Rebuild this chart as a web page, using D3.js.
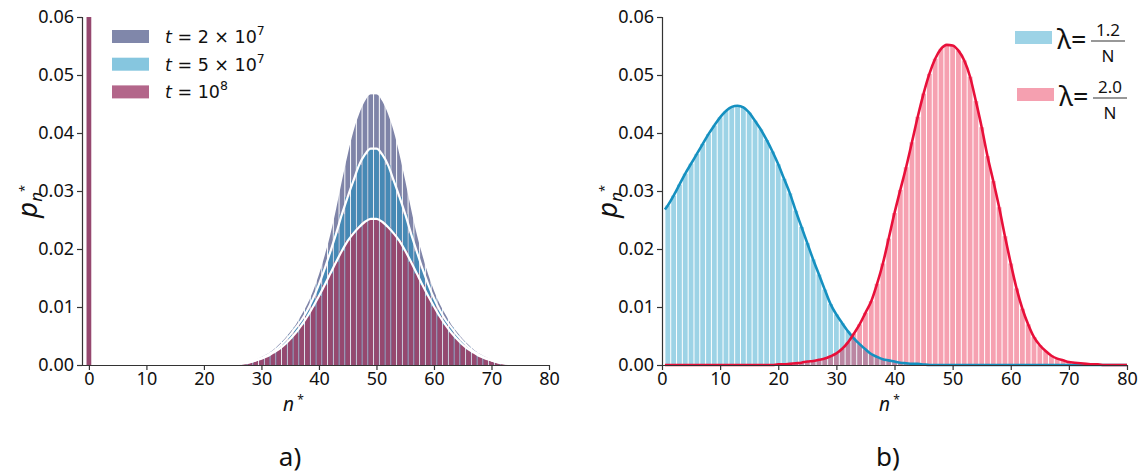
<!DOCTYPE html>
<html>
<head>
<meta charset="utf-8">
<script src="https://cdn.jsdelivr.net/npm/d3@7"></script>
<style>
  body { margin: 0; background: #fff; }
  svg { display: block; }
  .tick text { font-family: "Noto Sans", sans-serif; font-size: 18px; fill: #111; }
  .domain, .tick line { stroke: #333; stroke-width: 1.2; }
</style>
</head>
<body>
<svg id="chart" width="1141" height="476"></svg>
<script>
// panel a) : n = 0..80, three times
const nA = d3.range(0, 81);
const pT2e7 = [
  0, 0, 0, 0, 0, 0, 0, 0, 0, 0, 0, 0, 0, 0, 0, 0, 0, 0, 0, 0, 0, 0, 0, 0, 0,
  0.0001, 0.0002, 0.0004, 0.0006, 0.0009, 0.0014, 0.0019, 0.0026, 0.0035, 0.0045,
  0.0057, 0.0070, 0.0087, 0.0105, 0.0128, 0.0156, 0.0189, 0.0226, 0.0270, 0.0318,
  0.0363, 0.0403, 0.0433, 0.0455, 0.0467, 0.0467, 0.0455, 0.0433, 0.0403, 0.0363,
  0.0318, 0.0270, 0.0226, 0.0189, 0.0156, 0.0128, 0.0105, 0.0087, 0.0070, 0.0057,
  0.0045, 0.0035, 0.0026, 0.0019, 0.0014, 0.0009, 0.0006, 0.0004, 0.0002, 0.0001,
  0, 0, 0, 0, 0, 0
];
const pT5e7 = [
  0, 0, 0, 0, 0, 0, 0, 0, 0, 0, 0, 0, 0, 0, 0, 0, 0, 0, 0, 0, 0, 0, 0, 0, 0,
  0.0001, 0.0002, 0.0003, 0.0005, 0.0008, 0.0012, 0.0017, 0.0023, 0.0031, 0.0041,
  0.0052, 0.0065, 0.0078, 0.0095, 0.0115, 0.0139, 0.0166, 0.0196, 0.0227, 0.0260,
  0.0290, 0.0318, 0.0345, 0.0363, 0.0373, 0.0373, 0.0363, 0.0345, 0.0318, 0.0290,
  0.0260, 0.0227, 0.0196, 0.0166, 0.0139, 0.0115, 0.0095, 0.0078, 0.0065, 0.0052,
  0.0041, 0.0031, 0.0023, 0.0017, 0.0012, 0.0008, 0.0005, 0.0003, 0.0002, 0.0001,
  0, 0, 0, 0, 0, 0
];
// first bin goes off the top of the plot
const pT1e8 = [
  0.45, 0, 0, 0, 0, 0, 0, 0, 0, 0, 0, 0, 0, 0, 0, 0, 0, 0, 0, 0, 0, 0, 0, 0,
  0, 0.0001, 0.0002, 0.0003, 0.0005, 0.0008, 0.0011, 0.0015, 0.0021, 0.0027,
  0.0035, 0.0045, 0.0056, 0.0069, 0.0084, 0.0101, 0.0119, 0.0138, 0.0158, 0.0178,
  0.0197, 0.0214, 0.0227, 0.0238, 0.0247, 0.0252, 0.0252, 0.0247, 0.0238, 0.0227,
  0.0214, 0.0197, 0.0178, 0.0158, 0.0138, 0.0119, 0.0101, 0.0084, 0.0069, 0.0056,
  0.0045, 0.0035, 0.0027, 0.0021, 0.0015, 0.0011, 0.0008, 0.0005, 0.0003, 0.0002,
  0.0001, 0, 0, 0, 0, 0, 0
];

// panel b) : n = 1..80
const nB = d3.range(1, 81);
const pLam12 = [
  0.0275, 0.0292, 0.0311, 0.0330, 0.0347, 0.0364, 0.0381, 0.0398, 0.0413, 0.0427,
  0.0438, 0.0445, 0.0447, 0.0444, 0.0435, 0.0421, 0.0406, 0.0388, 0.0368, 0.0346,
  0.0321, 0.0296, 0.0266, 0.0238, 0.0210, 0.0182, 0.0156, 0.0130, 0.0105, 0.0087,
  0.0072, 0.0058, 0.0046, 0.0036, 0.0027, 0.0019, 0.0014, 0.0010, 0.0008, 0.0006,
  0.0004, 0.0003, 0.0002, 0.0002, 0.0001, 0, 0, 0, 0, 0,
  0, 0, 0, 0, 0, 0, 0, 0, 0, 0, 0, 0, 0, 0, 0, 0, 0, 0, 0, 0,
  0, 0, 0, 0, 0, 0, 0, 0, 0, 0
];
const pLam20 = [
  0, 0, 0, 0, 0, 0, 0, 0, 0, 0, 0, 0, 0, 0, 0, 0, 0, 0, 0,
  0.0001, 0.0001, 0.0002, 0.0003, 0.0004, 0.0006, 0.0007, 0.0009, 0.0011, 0.0015,
  0.0020, 0.0028, 0.0039, 0.0054, 0.0070, 0.0090, 0.0110, 0.0140, 0.0175, 0.0218,
  0.0262, 0.0302, 0.0341, 0.0384, 0.0428, 0.0468, 0.0502, 0.0528, 0.0545, 0.0552,
  0.0551, 0.0542, 0.0525, 0.0497, 0.0455, 0.0410, 0.0360, 0.0317, 0.0272, 0.0222,
  0.0175, 0.0132, 0.0097, 0.0070, 0.0048, 0.0034, 0.0024, 0.0016, 0.0011, 0.0008,
  0.0005, 0.0004, 0.0003, 0.0002, 0.0001, 0.0001, 0, 0, 0, 0, 0
];

const xTicks = [0, 10, 20, 30, 40, 50, 60, 70, 80];
const yTicks = [0, 0.01, 0.02, 0.03, 0.04, 0.05, 0.06];

const svg = d3.select("#chart");
const plotTop = 17, plotBottom = 365;

const y = d3.scaleLinear().domain([0, 0.06]).range([plotBottom, plotTop]);
const xA = d3.scaleLinear().domain([-1.2, 80]).range([82, 549]);
const xB = d3.scaleLinear().domain([0, 80]).range([662, 1127]);

const defs = svg.append("defs");
// clip so the n=0 spike stops at the top
defs.append("clipPath").attr("id", "clipA")
  .append("rect").attr("x", 82).attr("y", plotTop).attr("width", 470).attr("height", plotBottom - plotTop);
// smooth outline for the widest histogram
defs.append("clipPath").attr("id", "clipT2e7")
  .append("path")
  .attr("d", d3.area()
    .x((d, i) => xA(nA[i]))
    .y0(plotBottom)
    .y1(d => y(d))
    .curve(d3.curveMonotoneX)(pT2e7));

function bars(g, x, ns, vals, fill, opacity, hFn) {
  g.selectAll(null)
    .data(ns.map((n, i) => ({ n: n, v: hFn ? hFn(i) : vals[i] })).filter(d => d.v > 0))
    .enter()
    .append("rect")
    .attr("x", d => x(d.n - 0.5) + 0.5)
    .attr("width", d => x(d.n + 0.5) - x(d.n - 0.5) - 1)
    .attr("y", d => y(d.v))
    .attr("height", d => plotBottom - y(d.v))
    .attr("fill", fill)
    .attr("fill-opacity", opacity);
}

function curve(g, x, ns, vals, stroke, width, dash) {
  const pts = ns.map((n, i) => [n, vals[i]]);
  g.append("path")
    .datum(pts)
    .attr("fill", "none")
    .attr("stroke", stroke)
    .attr("stroke-width", width)
    .attr("stroke-dasharray", dash || null)
    .attr("d", d3.line().x(d => x(d[0])).y(d => y(d[1])).curve(d3.curveMonotoneX));
}

// ---------- panel a
const gA = svg.append("g").attr("clip-path", "url(#clipA)");
// widest one: bars reach up to their taller neighbour, then get trimmed to the curve
const gT2e7 = gA.append("g").attr("clip-path", "url(#clipT2e7)");
bars(gT2e7, xA, nA, pT2e7, "#7f84a8", 1,
  i => Math.max(pT2e7[i], pT2e7[i - 1] || 0, pT2e7[i + 1] || 0));
bars(gA, xA, nA, pT5e7, "#4689b5", 1);
bars(gA, xA, nA, pT1e8, "#96486f", 1);

// fitted curves (skip the spike at 0)
const tailA = nA.slice(24, 76);
curve(gA, xA, tailA, pT5e7.slice(24, 76), "#fff", 2.2);
curve(gA, xA, tailA, pT1e8.slice(24, 76), "#fff", 2.2);

svg.append("g")
  .attr("transform", `translate(82,0)`)
  .call(d3.axisLeft(y).tickValues(yTicks).tickSize(5).tickPadding(3).tickFormat(d3.format(".2f")));
svg.append("g")
  .attr("transform", `translate(0,${plotBottom})`)
  .call(d3.axisBottom(xA).tickValues(xTicks).tickSize(5).tickPadding(2).tickSizeOuter(0));

// ---------- panel b
const gB = svg.append("g");
bars(gB, xB, nB, pLam12, "#9dd3e6", 1);
bars(gB, xB, nB, pLam20, "#e8143c", 0.4);

curve(gB, xB, [0.5].concat(nB), [0.0268].concat(pLam12), "#1590c0", 2.6);
curve(gB, xB, [0.5].concat(nB), [0].concat(pLam20), "#e8103a", 2.6);

svg.append("g")
  .attr("transform", `translate(662,0)`)
  .call(d3.axisLeft(y).tickValues(yTicks).tickSize(5).tickPadding(3).tickFormat(d3.format(".2f")));
svg.append("g")
  .attr("transform", `translate(0,${plotBottom})`)
  .call(d3.axisBottom(xB).tickValues(xTicks).tickSize(5).tickPadding(2).tickSizeOuter(0));

// ---------- axis titles
function yTitle(xpos) {
  const t = svg.append("text")
    .attr("transform", `translate(${xpos},218) rotate(-90)`)
    .style("font-family", "'Noto Sans', sans-serif")
    .style("fill", "#111");
  t.append("tspan").style("font-style", "italic").style("font-size", "28px").text("p");
  t.append("tspan").attr("dy", 5).style("font-style", "italic").style("font-size", "17px").text("n");
  t.append("tspan").attr("dy", -13).style("font-size", "13px").text("*");
}
yTitle(37);
yTitle(617);

function xTitle(xpos) {
  const t = svg.append("text")
    .attr("x", xpos).attr("y", 411)
    .style("font-family", "'Noto Sans', sans-serif")
    .style("fill", "#111");
  t.append("tspan").style("font-style", "italic").style("font-size", "19px").text("n");
  t.append("tspan").attr("dy", -7).style("font-size", "12px").text(" *");
}
xTitle(283);
xTitle(879);

svg.append("text").attr("x", 290).attr("y", 466).attr("text-anchor", "middle")
  .style("font-family", "'Noto Sans', sans-serif").style("font-size", "26px").style("fill", "#111")
  .text("a)");
svg.append("text").attr("x", 888).attr("y", 466).attr("text-anchor", "middle")
  .style("font-family", "'Noto Sans', sans-serif").style("font-size", "26px").style("fill", "#111")
  .text("b)");

// ---------- legend a
const legA = [
  { c: "#8087aa", e: "2 × 10", s: "7" },
  { c: "#86c6df", e: "5 × 10", s: "7" },
  { c: "#b3668a", e: "10", s: "8" }
];
legA.forEach((d, i) => {
  const yy = 30 + i * 27.7;
  svg.append("rect").attr("x", 112).attr("y", yy).attr("width", 37).attr("height", 13).attr("fill", d.c);
  const t = svg.append("text").attr("x", 165).attr("y", yy + 13)
    .style("font-family", "'DejaVu Sans', sans-serif").style("font-size", "17.5px").style("fill", "#111");
  t.append("tspan").style("font-style", "italic").text("t");
  t.append("tspan").text(" = " + d.e);
  t.append("tspan").attr("dy", -8).style("font-size", "12.5px").text(d.s);
});

// ---------- legend b
const legB = [
  { c: "#9dd3e6", num: "1.2", y: 31 },
  { c: "#f5a0b0", num: "2.0", y: 88 }
];
legB.forEach((d, i) => {
  const ox = i * 2;
  svg.append("rect").attr("x", 1015 + ox).attr("y", d.y).attr("width", 37).attr("height", 13).attr("fill", d.c);
  svg.append("text").attr("x", 1057 + ox).attr("y", d.y + 18)
    .style("font-family", "'Noto Sans', sans-serif").style("font-size", "27px").style("fill", "#111")
    .text("λ=");
  svg.append("line").attr("x1", 1091 + ox).attr("x2", 1125 + ox)
    .attr("y1", d.y + 10).attr("y2", d.y + 10).attr("stroke", "#333").attr("stroke-width", 1.2);
  svg.append("text").attr("x", 1108 + ox).attr("y", d.y + 5).attr("text-anchor", "middle")
    .style("font-family", "'Noto Sans', sans-serif").style("font-size", "17px").style("fill", "#111")
    .text(d.num);
  svg.append("text").attr("x", 1108 + ox).attr("y", d.y + 31).attr("text-anchor", "middle")
    .style("font-family", "'Noto Sans', sans-serif").style("font-size", "17px").style("fill", "#111")
    .text("N");
});
</script>
</body>
</html>
